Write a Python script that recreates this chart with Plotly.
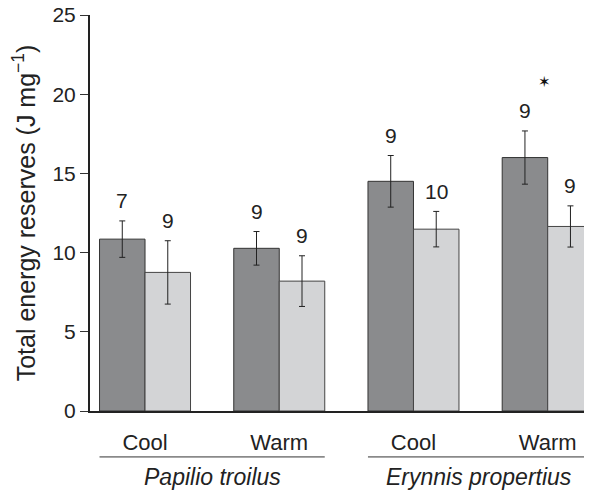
import plotly.graph_objects as go

groups = ["Cool", "Warm", "Cool", "Warm"]
species = ["Papilio troilus", "Erynnis propertius"]
dark_vals = [10.85, 10.27, 14.5, 16.0]
dark_err = [1.15, 1.06, 1.63, 1.68]
dark_n = ["7", "9", "9", "9"]
light_vals = [8.75, 8.2, 11.48, 11.65]
light_err = [2.0, 1.6, 1.12, 1.3]
light_n = ["9", "9", "10", "9"]
star_group = 3
star_y = 20.8

pos = list(range(len(groups)))
font = "Liberation Sans, Arial, sans-serif"
txt = "#222222"

fig = go.Figure()
fig.add_trace(go.Bar(
    x=pos, y=dark_vals, marker=dict(color="#8a8b8d", line=dict(color="#333333", width=1)),
    error_y=dict(type="data", array=dark_err, color="#222222", thickness=1, width=3),
    showlegend=False))
fig.add_trace(go.Bar(
    x=pos, y=light_vals, marker=dict(color="#d3d4d6", line=dict(color="#444444", width=1)),
    error_y=dict(type="data", array=light_err, color="#222222", thickness=1, width=3),
    showlegend=False))

bargap = 0.322
bw = (1 - bargap) / 2
anns = []
for i in pos:
    anns.append(dict(x=i - bw / 2, y=dark_vals[i] + dark_err[i], text=dark_n[i], showarrow=False,
                     yanchor="middle", yshift=20, font=dict(size=21, color=txt, family=font)))
    anns.append(dict(x=i + bw / 2, y=light_vals[i] + light_err[i], text=light_n[i], showarrow=False,
                     yanchor="middle", yshift=20, font=dict(size=21, color=txt, family=font)))
anns.append(dict(x=star_group, y=star_y, text="✶", showarrow=False, yanchor="middle", xshift=-3,
                 font=dict(size=15, color="#111111", family="DejaVu Sans")))
# species labels
anns.append(dict(x=(-bw + 1 + bw) / 2, xref="x", y=-0.1667, yref="paper", yanchor="middle",
                 text="<i>" + species[0] + "</i>",
                 showarrow=False, font=dict(size=23, color=txt, family=font)))
anns.append(dict(x=(2 - bw + 3 + bw) / 2, xref="x", y=-0.1667, yref="paper", yanchor="middle",
                 text="<i>" + species[1] + "</i>", xshift=-2,
                 showarrow=False, font=dict(size=23, color=txt, family=font)))

shapes = [
    dict(type="line", xref="x", yref="paper", x0=-bw, x1=1 + bw, y0=-0.116, y1=-0.116,
         line=dict(color="#333333", width=1)),
    dict(type="line", xref="x", yref="paper", x0=2 - bw, x1=3 + bw, y0=-0.116, y1=-0.116,
         line=dict(color="#333333", width=1)),
]

fig.update_layout(
    width=592, height=490,
    margin=dict(l=82, r=8, t=7, b=87),
    paper_bgcolor="white", plot_bgcolor="white",
    barmode="group", bargap=bargap, bargroupgap=0,
    font=dict(family=font, color=txt, size=21),
    annotations=anns, shapes=shapes,
    xaxis=dict(range=[-0.41, 3.33], tickvals=pos, ticktext=groups, ticks="", automargin=False,
               showline=True, linecolor="#222222", linewidth=2, showgrid=False, zeroline=False,
               ticklabelstandoff=11, tickfont=dict(size=22, color=txt)),
    yaxis=dict(range=[0, 25], tickvals=[0, 5, 10, 15, 20, 25], ticks="outside", ticklen=8,
               tickcolor="#333333", tickwidth=1, showline=True, linecolor="#222222", linewidth=2,
               showgrid=False, zeroline=False, tickfont=dict(size=21, color=txt),
               ticklabeloverflow="allow", automargin=False,
               title=dict(text="Total energy reserves (J mg<sup>−1</sup>)", standoff=16,
                          font=dict(size=25, color=txt))),
)
fig.write_html("out.html")
